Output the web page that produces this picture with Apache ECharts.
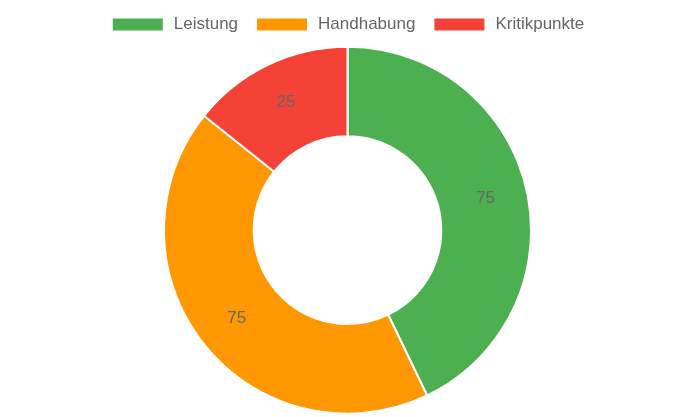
<!DOCTYPE html>
<html><head><meta charset="utf-8">
<script src="https://cdn.jsdelivr.net/npm/echarts@6/dist/echarts.min.js"></script>
<style>html,body{margin:0;padding:0;background:#fff}#c{width:695px;height:417px}</style>
</head><body><div id="c"></div>
<script>
const categories = ["Leistung", "Handhabung", "Kritikpunkte"];
const values = [75, 75, 25];
const colors = ["#4CAF50", "#FF9800", "#F44336"];

const chart = echarts.init(document.getElementById('c'), null, {renderer: 'canvas'});
chart.setOption({
  animation: false,
  color: colors,
  legend: {
    top: 11,
    left: 'center',
    itemWidth: 52,
    itemHeight: 14,
    itemGap: 17,
    icon: 'rect',
    textStyle: {fontFamily: 'Liberation Sans, Arial, sans-serif', fontSize: 17, color: '#666', padding: [0, 0, 0, 5]},
    data: categories
  },
  series: [{
    type: 'pie',
    center: ['50%', '55.2%'],
    radius: ['45%', '88%'],
    startAngle: 90,
    clockwise: true,
    itemStyle: {borderColor: '#fff', borderWidth: 2},
    label: {show: true, position: 'inside', formatter: '{c}', fontFamily: 'Liberation Sans, Arial, sans-serif', fontSize: 17, color: '#666'},
    labelLine: {show: false},
    emphasis: {disabled: true},
    data: categories.map((n, i) => ({name: n, value: values[i]}))
  }]
});
</script></body></html>
